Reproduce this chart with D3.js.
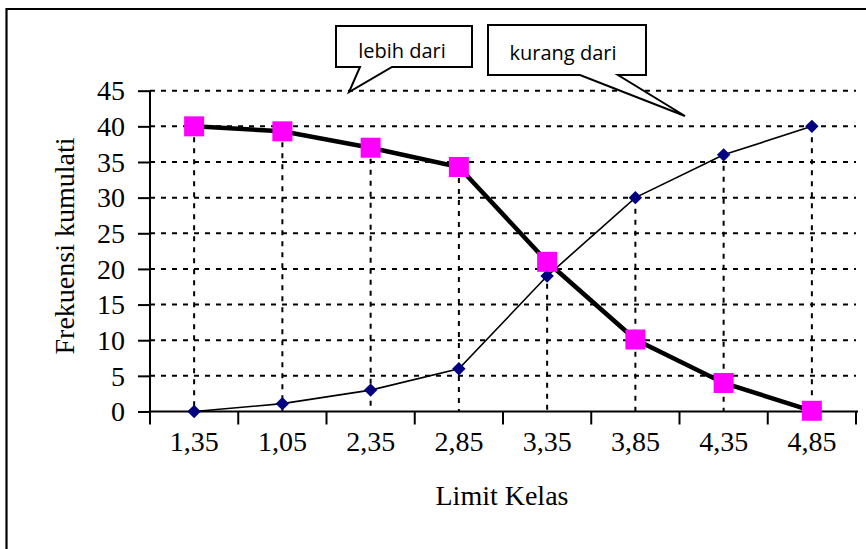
<!DOCTYPE html>
<html>
<head>
<meta charset="utf-8">
<script src="https://cdn.jsdelivr.net/npm/d3@7"></script>
<style>
  body { margin: 0; background: #fff; }
  svg { display: block; }
</style>
</head>
<body>
<svg id="chart" width="866" height="549"></svg>
<script>
// Data
const categories = ["1,35", "1,05", "2,35", "2,85", "3,35", "3,85", "4,35", "4,85"];
const lebihDari  = [40, 39.3, 37, 34.3, 21, 10.1, 4, 0.1];
const kurangDari = [0, 1.1, 3, 6, 19, 30, 36, 40];
const yTicks = [0, 5, 10, 15, 20, 25, 30, 35, 40, 45];

const serif = "'Liberation Serif', 'Times New Roman', serif";
const svg = d3.select("#chart");
const margin = { top: 90.7, right: 10, bottom: 137.5, left: 150 };
const innerWidth  = 856 - margin.left;
const innerHeight = 411.5 - margin.top;

// outer frame (only top and left edges visible)
svg.append("path")
  .attr("d", "M6.5,549 V9 H866")
  .attr("fill", "none")
  .attr("stroke", "#000")
  .attr("stroke-width", 2.2);

const g = svg.append("g")
  .attr("transform", `translate(${margin.left},${margin.top})`);

// Scales
const x = d3.scaleBand().domain(categories).range([0, innerWidth]);
const y = d3.scaleLinear().domain([0, 45]).range([innerHeight, 0]);
const cx = c => x(c) + x.bandwidth() / 2;

// Horizontal dashed gridlines
g.selectAll("line.grid")
  .data(yTicks.filter(d => d > 0))
  .join("line")
    .attr("class", "grid")
    .attr("x1", 0).attr("x2", innerWidth)
    .attr("y1", d => y(d)).attr("y2", d => y(d))
    .attr("stroke", "#000")
    .attr("stroke-width", 2)
    .attr("stroke-dasharray", "5,6");

// Drop lines from the higher of the two values down to the axis
g.selectAll("line.drop")
  .data(categories)
  .join("line")
    .attr("class", "drop")
    .attr("x1", d => cx(d)).attr("x2", d => cx(d))
    .attr("y1", (d, i) => y(Math.max(lebihDari[i], kurangDari[i])))
    .attr("y2", innerHeight)
    .attr("stroke", "#000")
    .attr("stroke-width", 2)
    .attr("stroke-dasharray", "5,6");

// Y axis
const yAxis = g.append("g")
  .call(d3.axisLeft(y).tickValues(yTicks).tickSize(12).tickPadding(13));
yAxis.select(".domain").attr("stroke-width", 2).attr("d", `M0,${innerHeight + 10}V0`);
yAxis.selectAll(".tick line").attr("stroke-width", 2);
yAxis.selectAll("text")
  .attr("font-family", serif)
  .attr("font-size", 28)
  .attr("dy", "0.33em")
  .attr("fill", "#000");

// X axis: ticks at band boundaries
const xAxisG = g.append("g").attr("transform", `translate(0,${innerHeight})`);
xAxisG.append("line")
  .attr("x1", 0).attr("x2", innerWidth + 2)
  .attr("stroke", "#000").attr("stroke-width", 2);
xAxisG.selectAll("line.xt")
  .data(d3.range(categories.length + 1))
  .join("line")
    .attr("class", "xt")
    .attr("x1", i => i * x.bandwidth()).attr("x2", i => i * x.bandwidth())
    .attr("y1", 0).attr("y2", 13)
    .attr("stroke", "#000").attr("stroke-width", 2);
xAxisG.selectAll("text")
  .data(categories)
  .join("text")
    .attr("x", d => cx(d))
    .attr("y", 39)
    .attr("text-anchor", "middle")
    .attr("font-family", serif)
    .attr("font-size", 28)
    .text(d => d);

// Axis titles
g.append("text")
  .attr("x", 502 - margin.left)
  .attr("y", 505 - margin.top)
  .attr("text-anchor", "middle")
  .attr("font-family", serif)
  .attr("font-size", 28)
  .text("Limit Kelas");

g.append("text")
  .attr("transform", "rotate(-90)")
  .attr("x", -(246 - margin.top))
  .attr("y", 74 - margin.left)
  .attr("text-anchor", "middle")
  .attr("font-family", serif)
  .attr("font-size", 28)
  .text("Frekuensi kumulati");

// Kurang dari: thin line with navy diamonds
const line = vals => d3.line()
  .x((d, i) => cx(categories[i]))
  .y(d => y(d))(vals);

g.append("path")
  .attr("d", line(kurangDari))
  .attr("fill", "none")
  .attr("stroke", "#000")
  .attr("stroke-width", 1.6);

g.selectAll("path.diamond")
  .data(kurangDari)
  .join("path")
    .attr("class", "diamond")
    .attr("d", d3.symbol(d3.symbolSquare, 90))
    .attr("transform", (d, i) => `translate(${cx(categories[i])},${y(d)}) rotate(45)`)
    .attr("fill", "#000080");

// Lebih dari: thick line with magenta squares
g.append("path")
  .attr("d", line(lebihDari))
  .attr("fill", "none")
  .attr("stroke", "#000")
  .attr("stroke-width", 4.5);

g.selectAll("rect.sq")
  .data(lebihDari)
  .join("rect")
    .attr("class", "sq")
    .attr("x", (d, i) => cx(categories[i]) - 10)
    .attr("y", d => y(d) - 10)
    .attr("width", 20)
    .attr("height", 20)
    .attr("fill", "#ff00ff");

// Callouts
function callout(bx, by, bw, bh, t1, t2, tip, label, tx, ty) {
  const p = `M${bx},${by} H${bx + bw} V${by + bh} H${t2} L${tip[0]},${tip[1]} L${t1},${by + bh} H${bx} Z`;
  svg.append("path")
    .attr("d", p)
    .attr("fill", "#fff")
    .attr("stroke", "#000")
    .attr("stroke-width", 2);
  svg.append("text")
    .attr("x", tx)
    .attr("y", ty)
    .attr("text-anchor", "middle")
    .attr("font-family", "'Open Sans', 'Noto Sans', sans-serif")
    .attr("font-size", 20)
    .text(label);
}
callout(336, 26, 136, 41, 360, 392, [349, 92], "lebih dari", 402, 58);
callout(488, 25, 158, 50, 580, 618, [685, 116], "kurang dari", 563, 60);
</script>
</body>
</html>
